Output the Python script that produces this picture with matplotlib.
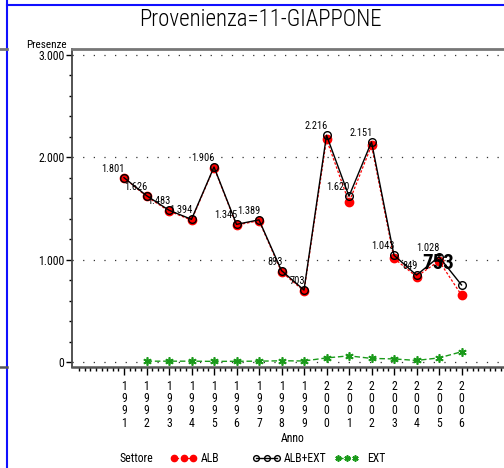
import matplotlib
matplotlib.use("Agg")
import matplotlib.pyplot as plt
import numpy as np
from matplotlib.lines import Line2D

# dati
anni = [1991, 1992, 1993, 1994, 1995, 1996, 1997, 1998,
        1999, 2000, 2001, 2002, 2003, 2004, 2005, 2006]
alb_ext = [1801, 1626, 1483, 1394, 1906, 1345, 1389, 893,
           703, 2216, 1620, 2151, 1043, 849, 1028, 753]
ext = [np.nan, 8, 8, 8, 6, 7, 8, 12, 10, 40, 60, 35, 30, 15, 40, 100]
alb = [1801, 1618, 1475, 1386, 1900, 1338, 1381, 881,
       693, 2176, 1560, 2116, 1013, 834, 988, 653]
etichette = ["1.801", "1.626", "1.483", "1.394", "1.906", "1.345", "1.389", "893",
             "703", "2.216", "1.620", "2.151", "1.043", "849", "1.028", ""]
y_ticks = [0, 1000, 2000, 3000]
y_labels = ["0", "1.000", "2.000", "3.000"]

FONT = ["Roboto Condensed", "DejaVu Sans"]
plt.rcParams["font.family"] = FONT

W, H = 504, 468
fig = plt.figure(figsize=(W / 100, H / 100), dpi=100)

# area del grafico (in pixel)
left, right, top, bottom = 72, 530, 49, 367
ax = fig.add_axes([left / W, 1 - bottom / H, (right - left) / W, (bottom - top) / H])

px_anno = 22.5
x0 = 1991 - (124 - left) / px_anno
ax.set_xlim(x0, x0 + (right - left) / px_anno)
ax.set_ylim(-48.9, 3058.6)

# griglia puntinata
for v in y_ticks:
    ax.axhline(v, color="#333333", lw=0.9, ls=(0, (1, 7.5)), zorder=1)

ax.plot(anni, alb, color="red", lw=0.9, ls=(0, (2, 1.5)), marker="o", ms=6,
        mfc="red", mec="red", zorder=3, label="ALB")
ax.plot(anni, alb_ext, color="black", lw=1.0, marker="o", ms=5.5,
        mfc="none", mec="black", mew=1.0, zorder=4, label="ALB+EXT")
ax.plot(anni, ext, color="#1a9a1a", lw=1.0, ls=(0, (4, 2)), marker=(6, 2, 0),
        ms=6, mec="#1a9a1a", mew=1.2, zorder=3, label="EXT")

# etichette dei valori
for a, v, t in zip(anni, alb_ext, etichette):
    if t:
        ax.annotate(t, (a, v), xytext=(1, 9), textcoords="offset pixels",
                    ha="right", va="center", fontsize=7.5, zorder=5)
ax.text(2004.96, 960, "753", ha="center", va="center", fontsize=15,
        fontweight="bold", zorder=6)

# assi
ax.spines["right"].set_visible(False)
ax.spines["top"].set_color("#777777")
ax.spines["top"].set_linewidth(2)
ax.spines["bottom"].set_color("#555555")
ax.spines["bottom"].set_linewidth(1.8)
ax.spines["left"].set_color("#444444")
ax.spines["left"].set_linewidth(1.3)

ax.set_yticks(y_ticks)
ax.set_yticklabels(y_labels, fontsize=8.5)
ax.set_yticks(np.arange(0, 3001, 200), minor=True)
ax.tick_params(axis="y", which="major", length=4, width=1, pad=1.5, direction="out")
ax.tick_params(axis="y", which="minor", length=2.5, width=1, direction="out")

ax.set_xticks(anni)
ax.set_xticklabels(["\n".join(str(a)) for a in anni], fontsize=8.5, linespacing=0.95)
ax.set_xticks(np.arange(1989, 2008.01, 0.25), minor=True)
ax.tick_params(axis="x", which="major", length=6, width=1, pad=3, direction="out")
ax.tick_params(axis="x", which="minor", length=3, width=1, direction="out")

# testi
fig.text(260 / W, 1 - 19.5 / H, "Provenienza=11-GIAPPONE", ha="center",
         va="center", fontsize=16.5, fontweight="light")
fig.text(67 / W, 1 - 45 / H, "Presenze", ha="right", va="center", fontsize=8)
fig.text(293 / W, 1 - 439 / H, "Anno", ha="center", va="center", fontsize=8.5)

# legenda
ly = 1 - 458 / H
fig.text(119 / W, ly, "Settore", ha="left", va="center", fontsize=8.5)
voci = [("ALB", 171, 196, 201), ("ALB+EXT", 253, 280, 284), ("EXT", 335, 358, 367)]
for (nome, xa, xb, xt), ln in zip(voci, ax.get_lines()[-3:]):
    xs = np.linspace(xa + 3, xb - 3, 3) / W
    fig.add_artist(Line2D(xs, [ly] * 3, color=ln.get_color(), ls=ln.get_linestyle(),
                          lw=ln.get_linewidth(), marker=ln.get_marker(),
                          ms=ln.get_markersize() * 0.75, mfc=ln.get_markerfacecolor(),
                          mec=ln.get_markeredgecolor(), mew=ln.get_markeredgewidth()))
    fig.text(xt / W, ly, nome, ha="left", va="center", fontsize=8.5)

# cornice blu e tratti grigi a sinistra
fig.add_artist(Line2D([7 / W, 7 / W], [0, 1], color="#1010ff", lw=1.5))
fig.add_artist(Line2D([7 / W, 1], [1 - 5 / H, 1 - 5 / H], color="#1010ff", lw=1.5))
fig.add_artist(Line2D([0, 7 / W], [1 - 49 / H] * 2, color="#777777", lw=2))
fig.add_artist(Line2D([0, 7 / W], [1 - 367 / H] * 2, color="#555555", lw=1.8))

fig.savefig("out.png", dpi=100)
